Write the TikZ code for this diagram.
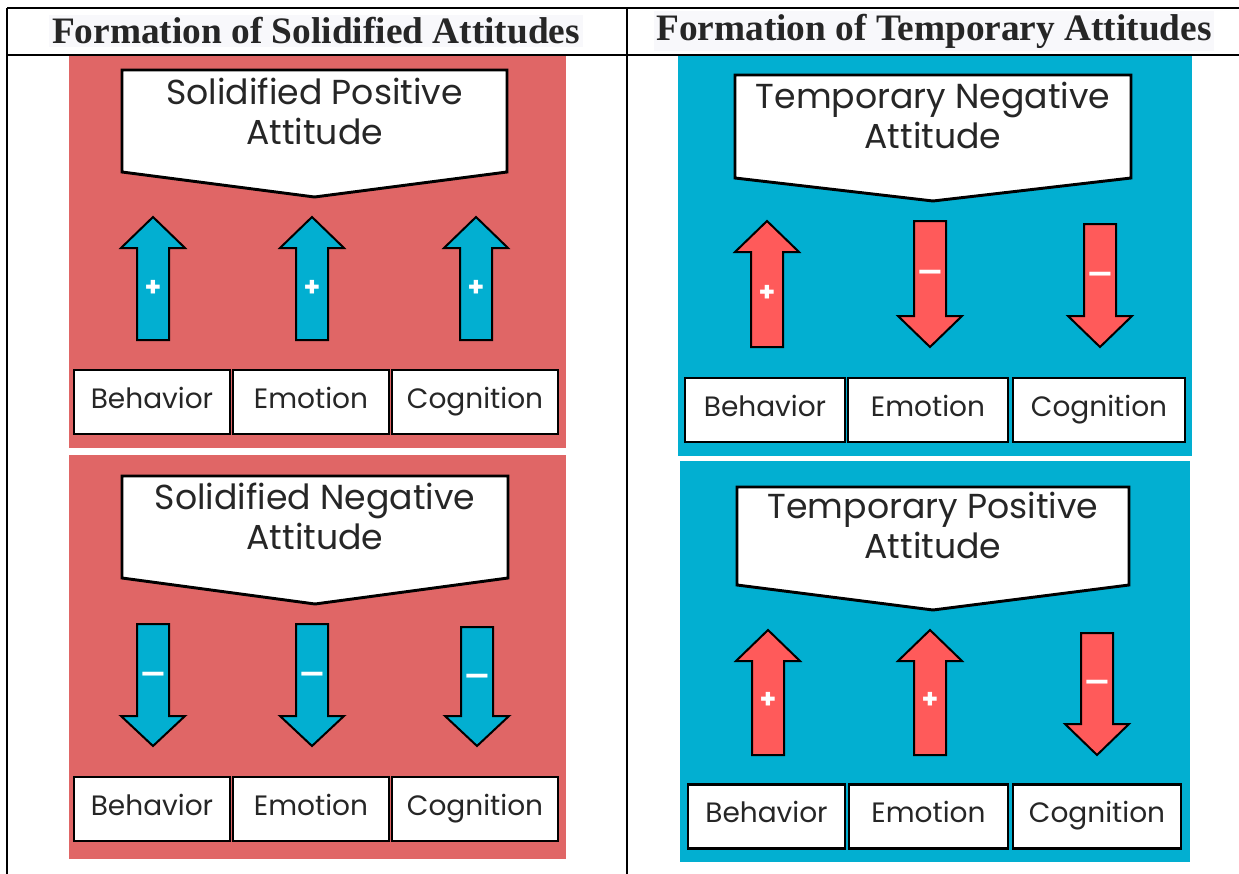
\documentclass[tikz,border=0pt]{standalone}
\usepackage{fontspec}
\setmainfont{Liberation Serif}
\newfontfamily\panelfont{Poppins}
\usepackage{tikz}
\usetikzlibrary{positioning}
\usepackage{xcolor}
\definecolor{solidred}{HTML}{E06666}
\definecolor{tempblue}{HTML}{02AFD1}
\definecolor{arrred}{HTML}{FF5A5A}
\definecolor{hdrgray}{HTML}{F8F8FB}

\begin{document}
\begin{tikzpicture}[
  x=0.75pt, y=-0.75pt,
  hdr/.style={font=\fontsize{28}{30}\selectfont\bfseries, text=black!85, fill=hdrgray, inner sep=2pt},
  tabrule/.style={line width=1.5pt},
  attshape/.style={draw, fill=white, line width=2.2pt, line join=miter},
  atttext/.style={font=\panelfont\fontsize{26}{30}\selectfont, align=center, text=black!85},
  lbox/.style={draw, fill=white, line width=2.2pt, minimum height=48pt, inner sep=0pt, text height=15pt, text depth=6pt, font=\panelfont\fontsize{21}{24}\selectfont, text=black!85},
  arr/.style={draw, line width=1.5pt, line join=miter},
  sign/.style={text=white, font=\panelfont\bfseries\fontsize{20}{20}\selectfont, inner sep=0pt},
]
\useasboundingbox (0,0) rectangle (1239,874);

% --- Table ---
\draw[tabrule] (7,8) -- (1239,8);
\draw[tabrule] (7,55) -- (1239,55);
\draw[tabrule] (7,8) -- (7,874);
\draw[tabrule] (627,8) -- (627,874);
\node[hdr] (hsolid) at (316,31) {Formation of Solidified Attitudes};
\node[hdr] (htemp) at (934,31) {Formation of Temporary Attitudes};

% --- Panels ---
\fill[solidred] (69,56) rectangle (566,448);
\fill[solidred] (69,455) rectangle (566,859);
\fill[tempblue] (678,56) rectangle (1192,456);
\fill[tempblue] (680,461) rectangle (1190,862);

% --- Attitude shapes ---
\foreach \l/\r/\tp/\sd/\pt/\c/\t/\n in {122/507/70/172/197/111/Solidified Positive/1, 122/508/476/578/604/516/Solidified Negative/2, 735/1131/75/178/201/115/Temporary Negative/3, 737/1129/487/585/610/525/Temporary Positive/4}{
  \draw[attshape] (\l,\tp) -- (\r,\tp) -- (\r,\sd) -- ({(\l+\r)/2},\pt) -- (\l,\sd) -- cycle;
  \node[atttext] (att\n) at ({(\l+\r)/2},\c) {\t\\Attitude};
}

% --- Arrows ---
\foreach \cx/\t/\e/\h/\sy/\sg/\n in {153/217/340/31/288/+/1, 312/217/340/31/288/+/2, 476/217/340/31/288/+/3, 153/746/624/-30/678/—/4, 312/746/624/-30/678/—/5, 477/746/627/-30/680/—/6}{
  \draw[arr, fill=tempblue] ({\cx-16},\e) -- ({\cx-16},{\t+(\h)}) -- ({\cx-32},{\t+(\h)}) -- (\cx,\t) -- ({\cx+32},{\t+(\h)}) -- ({\cx+16},{\t+(\h)}) -- ({\cx+16},\e) -- cycle;
  \node[sign] (sg\n) at (\cx,\sy) {\sg};
}
\foreach \cx/\t/\e/\h/\sy/\sg/\n in {767/221/347/31/293/+/7, 930/347/221/-31/276/—/8, 1100/347/224/-31/278/—/9, 768/630/755/31/700/+/10, 930/630/755/31/700/+/11, 1097/755/633/-31/686/—/12}{
  \draw[arr, fill=arrred] ({\cx-16},\e) -- ({\cx-16},{\t+(\h)}) -- ({\cx-32},{\t+(\h)}) -- (\cx,\t) -- ({\cx+32},{\t+(\h)}) -- ({\cx+16},{\t+(\h)}) -- ({\cx+16},\e) -- cycle;
  \node[sign] (sg\n) at (\cx,\sy) {\sg};
}

% --- Component boxes ---
\foreach \x/\y/\w/\t/\n in {152/402/156/Behavior/1, 311/402/156/Emotion/2, 475/402/166/Cognition/3, 152/809/156/Behavior/4, 311/809/156/Emotion/5, 475/809/166/Cognition/6, 765/410/160/Behavior/7, 928/410/160/Emotion/8, 1099/410/172/Cognition/9, 766.5/816.5/157/Behavior/10, 928.5/816.5/159/Emotion/11, 1097/816.5/168/Cognition/12}{
  \node[lbox, minimum width={\w*0.75pt}] (box\n) at (\x,\y) {\t};
}
\end{tikzpicture}
\end{document}
